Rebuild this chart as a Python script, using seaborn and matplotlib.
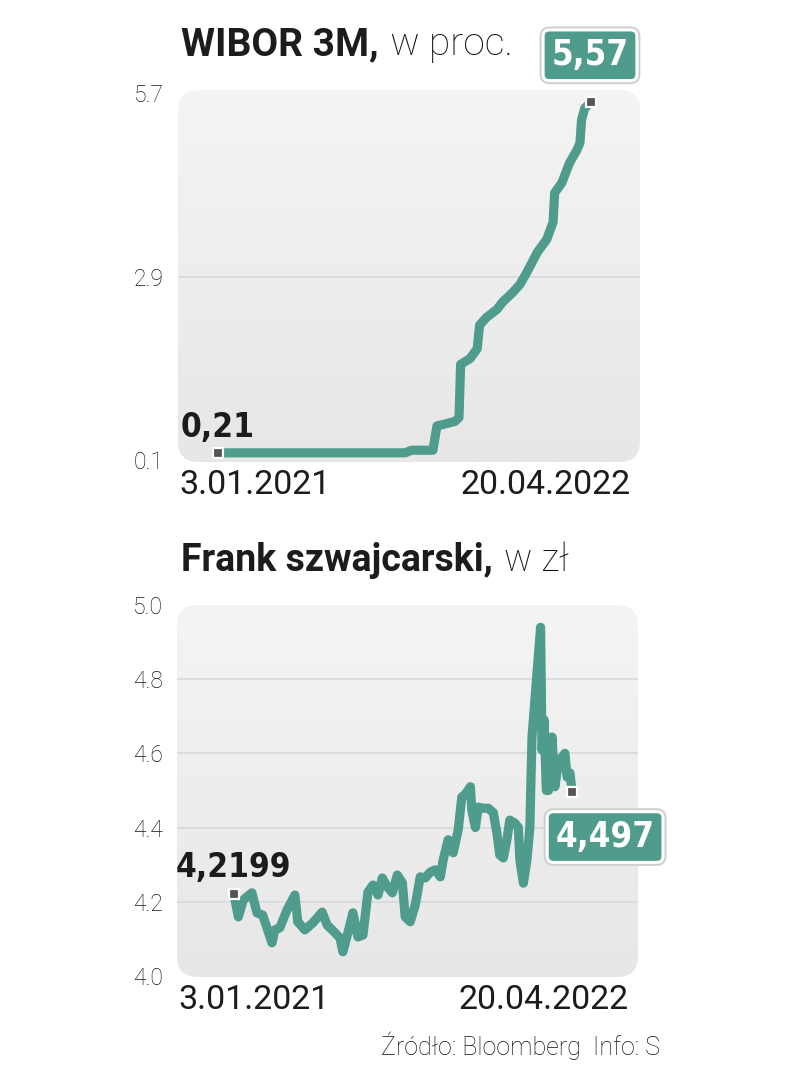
import numpy as np
import pandas as pd
import matplotlib
matplotlib.use("Agg")
import matplotlib.pyplot as plt
import seaborn as sns
from matplotlib.patches import FancyBboxPatch
from matplotlib.colors import LinearSegmentedColormap
import matplotlib.patheffects as pe
from matplotlib import font_manager

# ---------------- data ----------------
wibor_dates = ['2021-01-03', '2021-08-28', '2021-09-05', '2021-10-02', '2021-10-07',
               '2021-10-30', '2021-11-04', '2021-11-06', '2021-11-18', '2021-11-27',
               '2021-11-30', '2021-12-09', '2021-12-22', '2021-12-29', '2022-01-11',
               '2022-01-20', '2022-01-29', '2022-02-11', '2022-02-23', '2022-03-03',
               '2022-03-05', '2022-03-14', '2022-03-24', '2022-04-02', '2022-04-06',
               '2022-04-08', '2022-04-12', '2022-04-20']
wibor_values = [0.21, 0.21, 0.25, 0.25, 0.62,
                0.69, 0.75, 1.56, 1.65, 1.80,
                2.16, 2.28, 2.40, 2.51, 2.66,
                2.78, 2.97, 3.27, 3.47, 3.73,
                4.18, 4.33, 4.64, 4.83, 4.94,
                5.29, 5.47, 5.57]

chf_dates = ['2021-01-03', '2021-01-09', '2021-01-16', '2021-01-28', '2021-02-04', '2021-02-12',
             '2021-02-25', '2021-03-01', '2021-03-08', '2021-03-18', '2021-03-29', '2021-04-02',
             '2021-04-12', '2021-04-23', '2021-05-06', '2021-05-13', '2021-05-20', '2021-05-31',
             '2021-06-04', '2021-06-11', '2021-06-18', '2021-06-25', '2021-07-02', '2021-07-09',
             '2021-07-16', '2021-07-23', '2021-07-29', '2021-08-05', '2021-08-12', '2021-08-19',
             '2021-08-26', '2021-08-30', '2021-09-06', '2021-09-13', '2021-09-20', '2021-09-27',
             '2021-10-04', '2021-10-11', '2021-10-18', '2021-10-22', '2021-10-29', '2021-11-05',
             '2021-11-12', '2021-11-17', '2021-11-22', '2021-11-29', '2021-12-01', '2021-12-06',
             '2021-12-10', '2021-12-17', '2021-12-24', '2021-12-31', '2022-01-05', '2022-01-09',
             '2022-01-14', '2022-01-19', '2022-01-23', '2022-01-30', '2022-02-04', '2022-02-06',
             '2022-02-11', '2022-02-16', '2022-02-20', '2022-02-23', '2022-03-07', '2022-03-09',
             '2022-03-12', '2022-03-15', '2022-03-18', '2022-03-23', '2022-03-27', '2022-03-31',
             '2022-04-06', '2022-04-10', '2022-04-13', '2022-04-17', '2022-04-20']
chf_values = [4.2199, 4.159, 4.205, 4.224, 4.170, 4.164,
              4.089, 4.124, 4.130, 4.178, 4.218, 4.146,
              4.124, 4.143, 4.172, 4.137, 4.124, 4.102,
              4.065, 4.116, 4.170, 4.105, 4.110, 4.226,
              4.245, 4.218, 4.264, 4.240, 4.224, 4.272,
              4.251, 4.159, 4.146, 4.191, 4.267, 4.264,
              4.280, 4.286, 4.267, 4.313, 4.367, 4.332,
              4.394, 4.482, 4.490, 4.510, 4.447, 4.400,
              4.455, 4.452, 4.452, 4.440, 4.385, 4.326,
              4.318, 4.367, 4.420, 4.412, 4.400, 4.313,
              4.250, 4.313, 4.400, 4.644, 4.940, 4.609,
              4.690, 4.500, 4.500, 4.644, 4.510, 4.563,
              4.590, 4.600, 4.536, 4.547, 4.497]

wibor_yticks = [0.1, 2.9, 5.7]
chf_yticks = [4.0, 4.2, 4.4, 4.6, 4.8, 5.0]
x_labels = ["3.01.2021", "20.04.2022"]
titles = [("WIBOR 3M,", " w proc."), ("Frank szwajcarski,", " w zł")]
source = "Źródło: Bloomberg  Info: S"

# ---------------- style ----------------
TEAL = "#4f9b8c"
DARK = "#1c1c1c"
sns.set_theme(style="white")
plt.rcParams["font.family"] = ["Roboto", "DejaVu Sans"]

names = {f.name for f in font_manager.fontManager.ttflist}
if "Liberation Sans Narrow" in names:
    COND = ["Liberation Sans Narrow", "DejaVu Sans"]
    LBL_FS, BOX_FS = 28, 31
else:
    COND = ["DejaVu Sans"]
    LBL_FS, BOX_FS = 24, 25

W, H = 810, 1080
fig = plt.figure(figsize=(W / 100, H / 100), dpi=100)
fig.patch.set_facecolor("white")

ax1 = fig.add_axes([178 / W, 1 - 462 / H, 462 / W, 372 / H])
ax2 = fig.add_axes([177 / W, 1 - 977 / H, 461 / W, 372 / H])

df_w = pd.DataFrame({"date": pd.to_datetime(wibor_dates), "value": wibor_values})
df_c = pd.DataFrame({"date": pd.to_datetime(chf_dates), "value": chf_values})

cmap_bg = LinearSegmentedColormap.from_list("bg", ["#f4f4f4", "#e7e7e7"])


def style_panel(ax, df, yticks, ylim, xpad, wpx, hpx):
    ax.patch.set_visible(False)
    sns.lineplot(data=df, x="date", y="value", ax=ax, color=TEAL, lw=6.6,
                 solid_joinstyle="round", solid_capstyle="round", zorder=3)
    # rounded gradient background
    patch = FancyBboxPatch((0, 0), 1, 1, boxstyle="round,pad=0,rounding_size=0.045",
                           transform=ax.transAxes, mutation_aspect=wpx / hpx,
                           fc="none", ec="none", zorder=0)
    ax.add_patch(patch)
    im = ax.imshow(np.linspace(0, 1, 256).reshape(-1, 1), cmap=cmap_bg,
                   extent=[0, 1, 0, 1], transform=ax.transAxes, aspect="auto",
                   origin="upper", zorder=0)
    im.set_clip_path(patch)
    for t in yticks[1:-1]:
        ax.axhline(t, color="#d9d9e0", lw=1.3, zorder=1)
    start = df["date"].iloc[0]
    ax.set_xlim(start - pd.Timedelta(days=xpad[0]), start + pd.Timedelta(days=xpad[1]))
    ax.set_ylim(*ylim)
    ax.set_yticks(yticks)
    ax.set_yticklabels([f"{t:.1f}" for t in yticks])
    ax.set_xticks([])
    ax.set_xlabel("")
    ax.set_ylabel("")
    ax.tick_params(axis="y", length=0, pad=10, labelsize=16.5, labelcolor="#161616")
    for lbl in ax.get_yticklabels():
        lbl.set_fontweight("light")
    for s in ax.spines.values():
        s.set_visible(False)
    # endpoint markers
    for i in (0, -1):
        ax.plot([df["date"].iloc[i]], [df["value"].iloc[i]], marker="s", ms=7.5,
                mfc="#555555", mec="white", mew=1.6, zorder=6, clip_on=False)
    ax.text(0.004, -0.062, x_labels[0], transform=ax.transAxes, ha="left", va="center",
            fontsize=24.5, color=DARK)
    ax.text(0.98, -0.062, x_labels[1], transform=ax.transAxes, ha="right", va="center",
            fontsize=24.5, color=DARK)


style_panel(ax1, df_w, wibor_yticks, (0.07, 5.75), (50.6, 534.0), 462, 372)
style_panel(ax2, df_c, chf_yticks, (3.997, 5.0), (79.6, 564.0), 461, 372)


def start_label(ax, df, fmt, offset):
    ax.annotate(fmt.format(df["value"].iloc[0]).replace(".", ","),
                xy=(df["date"].iloc[0], df["value"].iloc[0]), xytext=offset,
                textcoords="offset pixels", ha="center", va="center",
                fontsize=LBL_FS, fontweight="bold", fontfamily=COND,
                fontstretch="condensed", color=DARK, zorder=7, annotation_clip=False)


def end_box(ax, df, fmt, offset):
    ann = ax.annotate(fmt.format(df["value"].iloc[-1]).replace(".", ","),
                      xy=(df["date"].iloc[-1], df["value"].iloc[-1]), xytext=offset,
                      textcoords="offset pixels", ha="center", va="center_baseline",
                      fontsize=BOX_FS, fontweight="bold", fontfamily=COND,
                      fontstretch="condensed", color="white", zorder=8,
                      annotation_clip=False,
                      bbox=dict(boxstyle="round,pad=0.24,rounding_size=0.18",
                                fc=TEAL, ec="white", lw=2.2))
    ann.get_bbox_patch().set_path_effects([pe.Stroke(linewidth=5, foreground="#cfcfcf"),
                                           pe.Normal()])


start_label(ax1, df_w, "{:.2f}", (0, 25))
end_box(ax1, df_w, "{:.2f}", (-1, 50))
start_label(ax2, df_c, "{:.4f}", (-1, 27))
end_box(ax2, df_c, "{:.3f}", (33, -42))

# titles (bold part + light part)
fig.canvas.draw()
renderer = fig.canvas.get_renderer()
for (bold, light), ybase, fs in zip(titles, (55, 571), (28, 27)):
    t = fig.text(181 / W, 1 - ybase / H, bold, ha="left", va="baseline",
                 fontsize=fs, fontweight="bold", color=DARK)
    ext = t.get_window_extent(renderer)
    fig.text((ext.x1 + 2) / W, 1 - ybase / H, light, ha="left", va="baseline",
             fontsize=fs, fontweight="light", color="#111111")

fig.text(660 / W, 1 - 1046 / H, source, ha="right", va="center", fontsize=18,
         fontweight="light", color="#111111")

fig.savefig("out.png", dpi=100, facecolor="white")
